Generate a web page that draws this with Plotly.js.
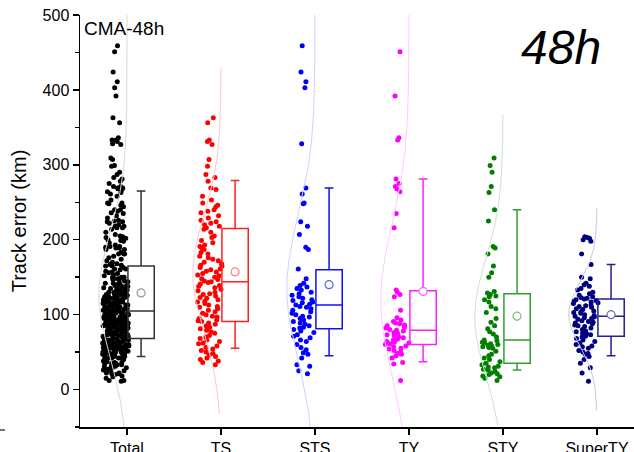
<!DOCTYPE html>
<html><head><meta charset="utf-8">
<script src="https://cdn.plot.ly/plotly-3.0.1.min.js"></script>
<style>html,body{margin:0;padding:0;background:#fff}#chart{width:634px;height:452px}</style>
</head><body><div id="chart"></div>
<script>
const categories = ['Total', 'TS', 'STS', 'TY', 'STY', 'SuperTY'];

const tsErrors = [363,356,333,331,327,307,298,287,283,278,269,267,258,253,249,246,244,240,238,236,232,229,226,224,222,220,218,216,214,210,205,203,
  199,196,193,191,189,187,
  183,181,178,176,174,172,170,168,166,165,163,161,160,158,157,155,153,152,150,
  148,147,145,144,143,141,139,138,136,134,132,130,128,127,125,123,122,120,
  118,117,115,113,111,110,108,106,104,102,100,98,97,95,93,92,91,
  89,87,85,83,81,79,77,75,72,70,68,66,64,62,61,
  58,56,54,52,50,48,46,44,42,40,38,36,33];

const stsErrors = [459,424,411,403,328,269,261,249,248,224,218,207,190,187,161,148,142,139,137,135,133,130,128,126,124,122,120,119,117,116,114,113,111,110,108,106,104,102,100,98,97,95,93,91,89,87,85,83,82,80,78,76,73,71,69,66,64,60,56,53,49,47,42,33,31,25,21];

const tyErrors = [451,392,336,333,281,275,271,268,264,235,216,133,130,127,124,106,
  96,93,91,89,88,86,85,83,82,80,
  79,78,76,75,73,72,70,69,67,66,64,63,62,61,60,
  58,57,55,54,52,50,48,47,45,42,36,34,12];

const styErrors = [309,299,290,271,263,240,225,191,189,181,165,156,150,
  131,129,127,125,124,120,117,111,108,103,95,
  90,85,81,77,74,70,66,65,63,62,61,60,59,58,57,56,
  55,51,47,45,42,40,37,35,33,31,30,29,27,26,24,22,21,20,18,17,15,12];

const superTyErrors = [204,203,202,200,198,181,167,150,148,142,140,138,135,133,130,128,126,124,123,122,121,120,119,118,117,116,115,113,112,111,110,108,107,105,104,103,102,100,99,98,97,96,95,94,92,91,90,89,88,86,85,84,82,80,78,77,75,74,73,71,70,68,66,64,62,60,58,57,55,52,50,48,47,44,40,35,29,22,11];

const totalErrors = [].concat(tsErrors, stsErrors, tyErrors, styErrors, superTyErrors);
const samples = [totalErrors, tsErrors, stsErrors, tyErrors, styErrors, superTyErrors];

// box statistics
const q1Values = [68, 91, 81, 60, 35, 71];
const medianValues = [105, 144, 113, 79, 66, 98];
const q3Values = [165, 215, 160, 132, 128, 121];
const lowerWhiskers = [44, 55, 45, 37, 26, 45];
const upperWhiskers = [265, 279, 269, 281, 240, 167];
const meanValues = [129, 157, 140, 131, 98, 100];

const pointColors = ['#000000', '#ff0000', '#0000ff', '#ff00ff', '#007f00', '#000080'];
const boxColors = ['#333333', '#ff2020', '#1010ff', '#ff20ff', '#30a030', '#202090'];
const meanColors = ['#999999', '#ff8080', '#6060ff', '#ff60ff', '#80c080', '#7070b0'];
const curveColors = ['#d8d8d8', '#ffc8c8', '#d0d0ff', '#ffc8ff', '#c8e6c8', '#c8c8e6'];

const BOX_OFF = 0.15, BOX_W = 0.28, CURVE_W = 0.30;
const traces = [];

// normal distribution curves (fit from the samples)
samples.forEach((s, i) => {
  const n = s.length;
  const m = s.reduce((a, b) => a + b, 0) / n;
  const sd = Math.sqrt(s.reduce((a, b) => a + (b - m) * (b - m), 0) / (n - 1));
  const mn = Math.min(...s), mx = Math.max(...s);
  const ext = 0.2 * (mx - mn);
  const xs = [], ys = [];
  for (let y = mn - ext; y <= mx + ext; y += 2) {
    ys.push(y);
    xs.push(i - CURVE_W * Math.exp(-0.5 * Math.pow((y - m) / sd, 2)));
  }
  traces.push({type: 'scatter', mode: 'lines', x: xs, y: ys,
    line: {color: curveColors[i], width: 1}, hoverinfo: 'skip'});
});

// jittered sample points
samples.forEach((s, i) => {
  traces.push({type: 'box', y: s, x0: i + BOX_OFF, width: BOX_W,
    boxpoints: 'all', jitter: 1, pointpos: -1.93,
    marker: {color: pointColors[i], size: 5},
    line: {width: 0, color: 'rgba(0,0,0,0)'}, fillcolor: 'rgba(0,0,0,0)',
    hoveron: 'points'});
});

// boxes
categories.forEach((c, i) => {
  traces.push({type: 'box', x: [i + BOX_OFF],
    q1: [q1Values[i]], median: [medianValues[i]], q3: [q3Values[i]],
    lowerfence: [lowerWhiskers[i]], upperfence: [upperWhiskers[i]],
    width: BOX_W, whiskerwidth: 0.33, boxpoints: false,
    line: {color: boxColors[i], width: 1.5}, fillcolor: 'rgba(255,255,255,0)', name: c});
});

// means
traces.push({type: 'scatter', mode: 'markers',
  x: categories.map((c, i) => i + BOX_OFF), y: meanValues,
  marker: {symbol: 'circle', size: 8, color: '#ffffff', line: {color: meanColors, width: 1.2}}});

const fontFam = 'Liberation Sans, Arial, sans-serif';
const layout = {
  width: 634, height: 452,
  margin: {l: 80, r: 0, t: 15, b: 25},
  showlegend: false,
  paper_bgcolor: '#ffffff', plot_bgcolor: '#ffffff',
  font: {family: fontFam, color: '#000'},
  xaxis: {
    range: [-0.5, 5.394], tickmode: 'array', tickvals: [0, 1, 2, 3, 4, 5], ticktext: categories,
    showline: true, linecolor: '#000', linewidth: 1.5, mirror: false,
    ticks: 'outside', ticklen: 6, tickwidth: 1.5, tickcolor: '#000',
    showgrid: false, zeroline: false, tickfont: {family: fontFam, size: 16, color: '#000'}
  },
  yaxis: {
    range: [-50, 500], tickmode: 'linear', tick0: 0, dtick: 100,
    showline: true, linecolor: '#000', linewidth: 1.5,
    ticks: 'outside', ticklen: 6, tickwidth: 1.5, tickcolor: '#000',
    minor: {dtick: 50, tick0: 0, ticks: 'outside', ticklen: 4, tickwidth: 1.5, tickcolor: '#000'},
    showgrid: false, zeroline: false, tickfont: {family: fontFam, size: 16, color: '#000'},
    title: {text: 'Track error (km)', font: {family: fontFam, size: 20, color: '#000'}, standoff: 10}
  },
  shapes: [
    {type: 'line', xref: 'paper', yref: 'paper', x0: -0.1444, x1: -0.1354, y0: -0.0073, y1: -0.0073,
      line: {color: '#444', width: 1.5}}
  ],
  annotations: [
    {xref: 'paper', yref: 'paper', x: 0.003, y: 1, xanchor: 'left', yanchor: 'top', yshift: -1,
      text: 'CMA-48h', showarrow: false, font: {family: fontFam, size: 19, color: '#000'}},
    {xref: 'paper', yref: 'paper', x: 0.868, y: 0.922, xanchor: 'center', yanchor: 'middle',
      text: '<i>48h</i>', showarrow: false, font: {family: fontFam, size: 48, color: '#000'}}
  ]
};
Plotly.newPlot('chart', traces, layout, {staticPlot: true, displayModeBar: false});
</script></body></html>
